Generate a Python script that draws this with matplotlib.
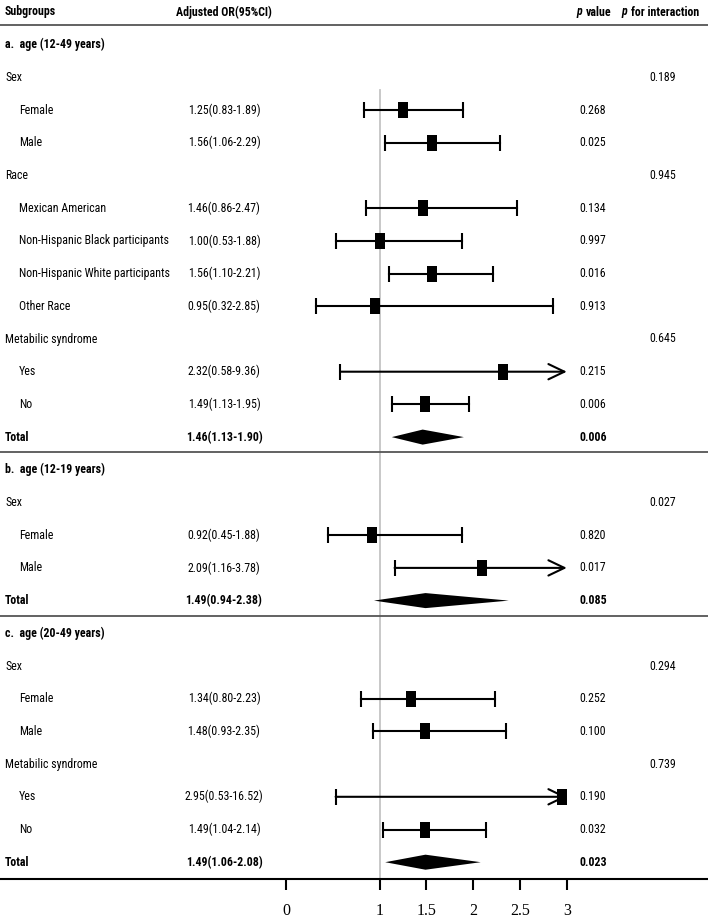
import numpy as np
import matplotlib
matplotlib.use("Agg")
import matplotlib.pyplot as plt
from matplotlib import font_manager as fm
from matplotlib.path import Path
from matplotlib.transforms import blended_transform_factory

# ---------------- data ----------------
row_labels = ["a.  age (12-49 years)", "Sex", "Female", "Male", "Race",
              "Mexican American", "Non-Hispanic Black participants",
              "Non-Hispanic White participants", "Other Race",
              "Metabilic syndrome", "Yes", "No", "Total",
              "b.  age (12-19 years)", "Sex", "Female", "Male", "Total",
              "c.  age (20-49 years)", "Sex", "Female", "Male",
              "Metabilic syndrome", "Yes", "No", "Total"]
row_kind = ["section", "group", "item", "item", "group",
            "item", "item", "item", "item",
            "group", "item", "item", "total",
            "section", "group", "item", "item", "total",
            "section", "group", "item", "item",
            "group", "item", "item", "total"]
nan = np.nan
or_est = [nan, nan, 1.25, 1.56, nan, 1.46, 1.00, 1.56, 0.95, nan, 2.32, 1.49, 1.46,
          nan, nan, 0.92, 2.09, 1.49,
          nan, nan, 1.34, 1.48, nan, 2.95, 1.49, 1.49]
or_lo = [nan, nan, 0.83, 1.06, nan, 0.86, 0.53, 1.10, 0.32, nan, 0.58, 1.13, 1.13,
         nan, nan, 0.45, 1.16, 0.94,
         nan, nan, 0.80, 0.93, nan, 0.53, 1.04, 1.06]
or_hi = [nan, nan, 1.89, 2.29, nan, 2.47, 1.88, 2.21, 2.85, nan, 9.36, 1.95, 1.90,
         nan, nan, 1.88, 3.78, 2.38,
         nan, nan, 2.23, 2.35, nan, 16.52, 2.14, 2.08]
p_value = ["", "", "0.268", "0.025", "", "0.134", "0.997", "0.016", "0.913", "",
           "0.215", "0.006", "0.006",
           "", "", "0.820", "0.017", "0.085",
           "", "", "0.252", "0.100", "", "0.190", "0.032", "0.023"]
p_interaction = ["", "0.189", "", "", "0.945", "", "", "", "", "0.645", "", "", "",
                 "", "0.027", "", "", "",
                 "", "0.294", "", "", "0.739", "", "", ""]
x_ticks = [0, 1, 1.5, 2, 2.5, 3]
x_tick_labels = ["0", "1", "1.5", "2", "2.5", "3"]
x_clip = 3.0
ref_value = 1.0


def has_font(name):
    try:
        fm.findfont(fm.FontProperties(family=name), fallback_to_default=False)
        return True
    except Exception:
        return False


FONT, FS = ["Liberation Sans", "DejaVu Sans"], 8.0
for cand, size in [("Roboto Condensed", 8.6), ("Liberation Sans Narrow", 9.5),
                   ("Open Sans Condensed", 9.0), ("Arial Narrow", 9.5)]:
    if has_font(cand):
        FONT, FS = [cand, "DejaVu Sans"], size
        break

# ---------------- figure ----------------
W, H = 708, 919
fig = plt.figure(figsize=(W / 100, H / 100), dpi=100)
ax = fig.add_axes([0, 0, 1, 1])

px0, ppu = 286.0, 93.6        # pixel of value 0, pixels per unit
y0, ppr = 12.0, 32.7          # pixel of header row, pixels per row
ax.set_xlim(-px0 / ppu, (W - px0) / ppu)
ax.set_ylim((H - y0) / ppr, -y0 / ppr)

tr = blended_transform_factory(ax.transAxes, ax.transData)


def fx(px):
    return px / W


def txt(px, r, s, ha="left", bold=False, italic=False):
    ax.text(fx(px), r, s, transform=tr, ha=ha, va="center", family=FONT,
            fontsize=FS, fontweight="bold" if bold else "normal",
            fontstyle="italic" if italic else "normal")


# header
txt(5, 0, "Subgroups", bold=True)
txt(224, 0, "Adjusted OR(95%CI)", ha="center", bold=True)
txt(582, 0, "p", ha="right", bold=True, italic=True)
txt(586, 0, "value", bold=True)
txt(627, 0, "p", ha="right", bold=True, italic=True)
txt(631, 0, "for interaction", bold=True)

ax.axhline(0.4, color="#555555", lw=1.3)

# reference line
ax.plot([ref_value, ref_value], [2.39, 26.51], color="#c4c4c4", lw=1.3, zorder=1)

rect = Path([(-0.667, -1), (0.667, -1), (0.667, 1), (-0.667, 1), (-0.667, -1)],
            [Path.MOVETO, Path.LINETO, Path.LINETO, Path.LINETO, Path.CLOSEPOLY])

LW = 1.5
for i, (lab, kind) in enumerate(zip(row_labels, row_kind)):
    r = i + 1
    bold = kind in ("section", "total")
    txt(19 if kind == "item" else 5, r, lab, bold=bold)
    if p_value[i]:
        txt(593, r, p_value[i], ha="center", bold=bold)
    if p_interaction[i]:
        txt(663, r, p_interaction[i], ha="center")
    est, lo, hi = or_est[i], or_lo[i], or_hi[i]
    if np.isnan(est):
        continue
    txt(224, r, f"{est:.2f}({lo:.2f}-{hi:.2f})", ha="center", bold=bold)
    if kind == "total":
        h = 0.23
        ax.fill([lo, est, hi, est], [r, r - h, r, r + h], color="black", lw=0, zorder=3)
        if r != len(row_labels):
            ax.axhline(r + 0.46, color="#555555", lw=1.3)
        continue
    if hi > x_clip:
        ax.annotate("", xy=(x_clip, r), xytext=(lo, r),
                    arrowprops=dict(arrowstyle="->,head_length=1.15,head_width=0.55",
                                    lw=LW, color="black", mutation_scale=10,
                                    shrinkA=0, shrinkB=0), zorder=2)
        ax.plot([lo], [r], marker="|", ms=11, mew=LW, color="black", zorder=2)
    else:
        ax.plot([lo, hi], [r, r], color="black", lw=LW, zorder=2)
        ax.plot([lo, hi], [r, r], ls="none", marker="|", ms=11, mew=LW,
                color="black", zorder=2)
    ax.plot([est], [r], ls="none", marker=rect, ms=11, mew=0, color="black", zorder=4)

# bottom axis
for s in ["top", "left", "right"]:
    ax.spines[s].set_visible(False)
ax.spines["bottom"].set_position(("data", (879 - y0) / ppr))
ax.spines["bottom"].set_linewidth(1.5)
ax.set_yticks([])
ax.set_xticks(x_ticks)
ax.set_xticklabels(x_tick_labels, family=["Liberation Serif", "DejaVu Serif"], fontsize=11.5)
ax.tick_params(axis="x", direction="out", length=8, width=1.5, pad=9)

fig.savefig("out.png", dpi=100, facecolor="white")
